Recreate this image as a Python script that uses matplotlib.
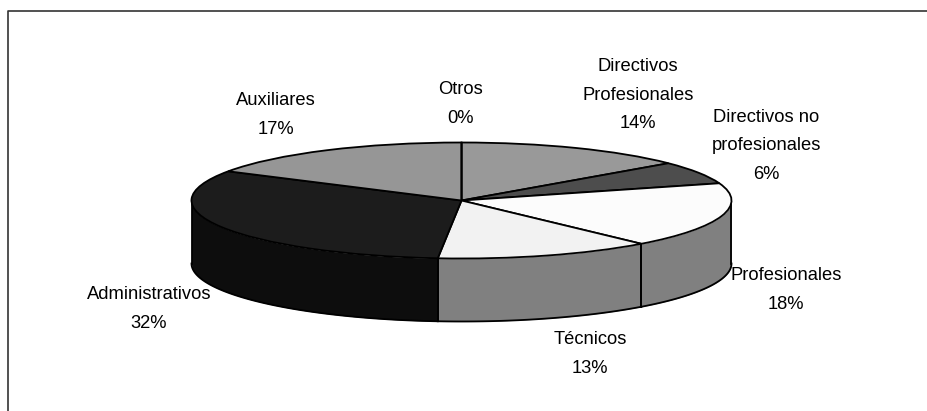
import numpy as np
import matplotlib
matplotlib.use("Agg")
import matplotlib.pyplot as plt

# Datos
categorias = ["Directivos\nProfesionales", "Directivos no\nprofesionales", "Profesionales",
              "Técnicos", "Administrativos", "Auxiliares", "Otros"]
porcentajes = [13.9, 6.3, 18.2, 13.0, 32.0, 16.6, 0]
etiquetas = ["14%", "6%", "18%", "13%", "32%", "17%", "0%"]

colores_tapa = ["#999999", "#4d4d4d", "#fcfcfc", "#f2f2f2", "#1c1c1c", "#969696", "#969696"]
colores_lado = ["#808080", "#262626", "#808080", "#808080", "#0d0d0d", "#4b4b4b", "#4b4b4b"]

W, H = 928, 411
CX, CY = 461.5, 200.5  # centro de la tapa en pixeles
RX, RY = 270, 58
PROF = 63 / RY  # grosor del pastel, en unidades de RY

pos_texto = [(638, 95), (766, 146), (786, 290), (590, 354), (149, 309), (276, 115), (461, 104)]

plt.rcParams["font.family"] = ["Liberation Sans", "DejaVu Sans"]

fig = plt.figure(figsize=(W / 100, H / 100), dpi=100, facecolor="white")
ax = fig.add_axes([0, 0, 1, 1])

px = lambda x: (x - CX) / RX
py = lambda y: (CY - y) / RY


def draw_sides():
    # Angulos medidos en sentido horario desde arriba, la cara lateral se ve de 90 a 270
    fin = np.cumsum(porcentajes) * 3.6
    ini = fin - np.array(porcentajes) * 3.6
    for a, b, col in zip(ini, fin, colores_lado):
        a, b = max(a, 90), min(b, 270)
        if b <= a:
            continue
        t = np.radians(np.linspace(a, b, 80))
        x = np.sin(t)
        y = np.cos(t)
        ax.fill_between(x, y, y - PROF, color=col, lw=0, zorder=1)
        ax.plot(x, y - PROF, color="black", lw=1.3, zorder=2)
        for tt in (t[0], t[-1]):
            ax.plot([np.sin(tt)] * 2, [np.cos(tt), np.cos(tt) - PROF], color="black", lw=1.3, zorder=2)


draw_sides()

wedges, _ = ax.pie(porcentajes, colors=colores_tapa, startangle=90, counterclock=False,
                   wedgeprops={"edgecolor": "black", "linewidth": 1.3})
for w in wedges:
    w.set_zorder(3)

ax.set_aspect("auto")
ax.set_xlim(px(0), px(W))
ax.set_ylim(py(H), py(0))
ax.axis("off")

# Marco: solo izquierda y arriba, lo demas queda cortado
ax.plot([px(7.5), px(7.5), px(W)], [py(H), py(11.5), py(11.5)],
        color="#333333", lw=1.2, clip_on=False, zorder=0)

for cat, et, (x, y) in zip(categorias, etiquetas, pos_texto):
    fig.text(x / W, 1 - y / H, cat + "\n" + et, ha="center", va="center", fontsize=13.2,
             linespacing=1.88, color="black")

fig.savefig("out.png", dpi=100)
